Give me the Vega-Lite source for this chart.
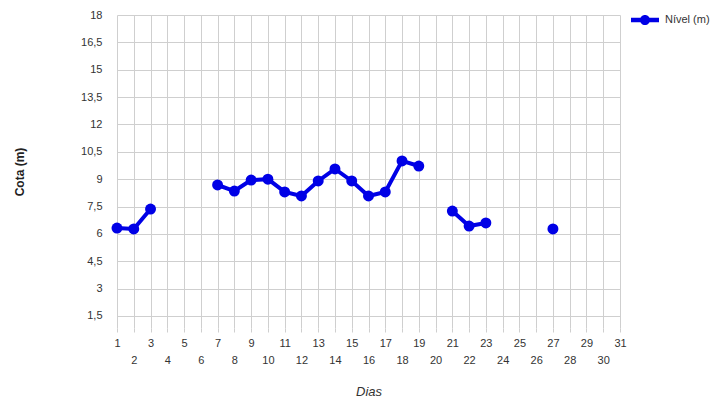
{
  "$schema": "https://vega.github.io/schema/vega-lite/v6.json",
  "autosize": {"type": "none"},
  "width": 503,
  "height": 313,
  "padding": {"left": 117, "top": 15, "right": 108, "bottom": 72},
  "background": "white",
  "config": {
    "view": {"stroke": null},
    "font": "Liberation Sans",
    "axis": {"labelFont": "Liberation Sans", "labelFontSize": 11, "labelColor": "#333", "gridColor": "#cfcfcf", "gridWidth": 1, "domain": false, "tickColor": "#cfcfcf"}
  },
  "data": {
    "values": [
      {"dia": 1, "nivel": 6.32},
      {"dia": 2, "nivel": 6.27},
      {"dia": 3, "nivel": 7.36},
      {"dia": 4, "nivel": null},
      {"dia": 5, "nivel": null},
      {"dia": 6, "nivel": null},
      {"dia": 7, "nivel": 8.68},
      {"dia": 8, "nivel": 8.35},
      {"dia": 9, "nivel": 8.95},
      {"dia": 10, "nivel": 9.0},
      {"dia": 11, "nivel": 8.3},
      {"dia": 12, "nivel": 8.08},
      {"dia": 13, "nivel": 8.9},
      {"dia": 14, "nivel": 9.56},
      {"dia": 15, "nivel": 8.9},
      {"dia": 16, "nivel": 8.08},
      {"dia": 17, "nivel": 8.3},
      {"dia": 18, "nivel": 10.0},
      {"dia": 19, "nivel": 9.72},
      {"dia": 20, "nivel": null},
      {"dia": 21, "nivel": 7.25},
      {"dia": 22, "nivel": 6.43},
      {"dia": 23, "nivel": 6.6},
      {"dia": 24, "nivel": null},
      {"dia": 25, "nivel": null},
      {"dia": 26, "nivel": null},
      {"dia": 27, "nivel": 6.27},
      {"dia": 28, "nivel": null},
      {"dia": 29, "nivel": null},
      {"dia": 30, "nivel": null},
      {"dia": 31, "nivel": null}
    ]
  },
  "encoding": {
    "x": {
      "field": "dia", "type": "quantitative",
      "scale": {"domain": [1, 31], "nice": false, "zero": false},
      "axis": {
        "values": [1,2,3,4,5,6,7,8,9,10,11,12,13,14,15,16,17,18,19,20,21,22,23,24,25,26,27,28,29,30,31],
        "title": "Dias", "titleFontStyle": "italic", "titleFontWeight": "normal", "titleFontSize": 13, "titleColor": "#333", "titlePadding": 20,
        "grid": true, "tickSize": 4,
        "labelPadding": {"expr": "datum.value % 2 === 0 ? 22 : 5"},
        "labelFlush": false, "labelOverlap": false
      }
    },
    "y": {
      "field": "nivel", "type": "quantitative",
      "scale": {"domain": [0.84, 18], "nice": false, "zero": false},
      "axis": {
        "values": [1.5,3,4.5,6,7.5,9,10.5,12,13.5,15,16.5,18],
        "format": ".1~f",
        "labelExpr": "replace(datum.label, '.', ',')",
        "title": "Cota (m)", "titleFontWeight": "bold", "titleFontSize": 12, "titleColor": "#222", "titlePadding": 54,
        "grid": true, "ticks": false, "labelPadding": 15
      }
    },
    "color": {
      "datum": "Nível (m)", "type": "nominal",
      "scale": {"range": ["#0000e6"]},
      "legend": {
        "title": null, "orient": "none", "legendX": 514, "legendY": -9,
        "symbolType": "M-1,-0.16 L1,-0.16 L1,0.16 L-1,0.16 Z M0.36,0 A0.36,0.36 0 1,1 -0.36,0 A0.36,0.36 0 1,1 0.36,0 Z",
        "symbolSize": 784, "symbolFillColor": "#0000e6", "symbolStrokeWidth": 0,
        "labelFontSize": 11, "labelColor": "#333", "labelOffset": 6, "labelFont": "Liberation Sans"
      }
    }
  },
  "layer": [
    {"mark": {"type": "line", "strokeWidth": 4, "invalid": "break-paths-show-domains"}},
    {"mark": {"type": "point", "filled": true, "opacity": 1, "size": 120}}
  ]
}
